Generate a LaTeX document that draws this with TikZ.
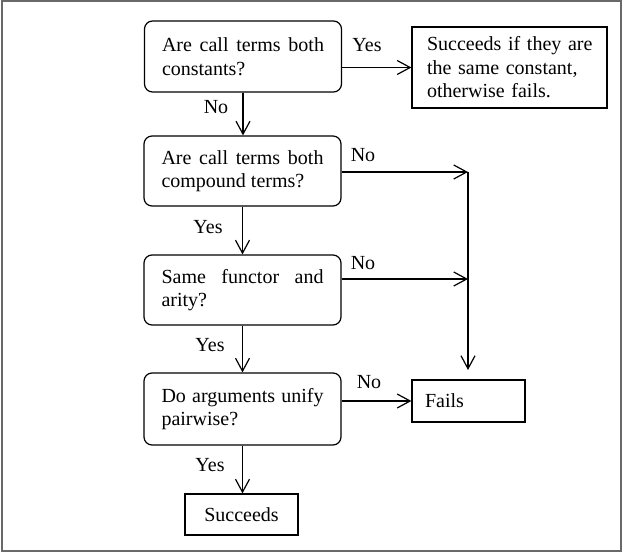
\documentclass[tikz,border=0pt]{standalone}
\usepackage{fontspec}
\setmainfont{Liberation Serif}
\usetikzlibrary{arrows.meta}
\definecolor{framegray}{RGB}{105,105,105}
\begin{document}
\begin{tikzpicture}[x=1pt,y=-1pt,
  every node/.style={font=\fontsize{20}{23.5}\selectfont},
  qbox/.style={draw, rounded corners=8pt, line width=1.2pt, text width=162pt, align=justify, inner xsep=17.5pt, inner ysep=0pt, minimum height=70pt},
  rbox/.style={draw, line width=1.2pt, inner ysep=0pt},
  conn/.style={line width=1.2pt, -{Straight Barb[length=13pt,width=14pt,line width=1.2pt]}},
  lbl/.style={inner sep=0pt}
]
\useasboundingbox (0,0) rectangle (624,553);
\draw[framegray, line width=2pt] (2,1) rectangle (621,551);

\node[qbox, minimum height=71pt] (q1) at (243,56.5) {Are call terms both constants?};
\node[qbox] (q2) at (242.5,171) {Are call terms both compound terms?};
\node[qbox] (q3) at (242.5,290) {Same functor and arity?};
\node[qbox, minimum height=72pt] (q4) at (242.5,409) {Do arguments unify pairwise?};
\node[rbox, text width=175pt, align=left, inner xsep=10pt, minimum height=81pt] (s1) at (509.5,67.5) {\hspace*{5pt}Succeeds if they are\\\hspace*{5pt}the same constant,\\\hspace*{5pt}otherwise fails.};
\node[rbox, text width=87pt, align=left, inner xsep=13pt, minimum height=42pt] (fails) at (468.5,401) {Fails};
\node[rbox, minimum width=113pt, minimum height=41pt] (succ) at (241.5,514.5) {Succeeds};

\coordinate (j1) at (468,172);
\coordinate (j2) at (468,279);
\coordinate (jend) at (468,370);

\draw[conn] (s1.west -| q1.east) -- (s1.west);
\draw[conn] (q1.south) -- (q1.south |- q2.north);
\draw[conn] (j1 -| q2.east) -- (j1);
\draw[conn] (j2 -| q3.east) -- (j2);
\draw[conn] (j1) -- (jend);
\draw[conn] (q2.south) -- (q3.north);
\draw[conn] (q3.south) -- (q4.north);
\draw[conn] (fails.west -| q4.east) -- (fails.west);
\draw[conn] (q4.south) -- (q4.south |- succ.north);

\node[lbl] at (367,45) {Yes};
\node[lbl] at (216,107) {No};
\node[lbl] at (363,155) {No};
\node[lbl] at (208,227) {Yes};
\node[lbl] at (363,263) {No};
\node[lbl] at (210,345) {Yes};
\node[lbl] at (369,382) {No};
\node[lbl] at (210,465) {Yes};
\end{tikzpicture}
\end{document}
